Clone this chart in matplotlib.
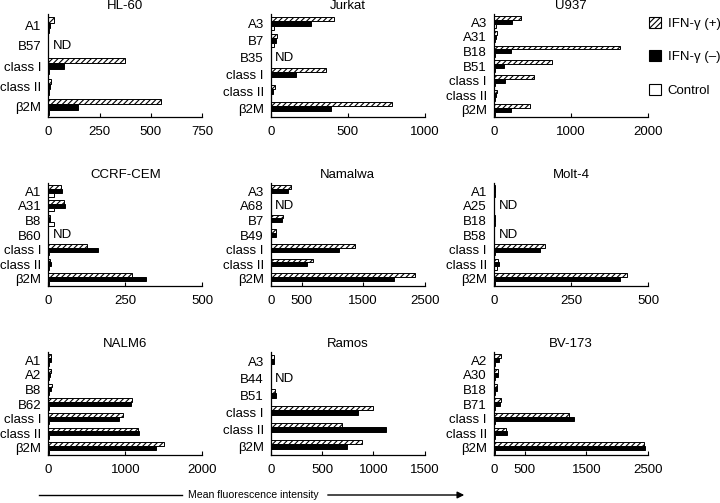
import numpy as np
import matplotlib
matplotlib.use('Agg')
import matplotlib.pyplot as plt
from matplotlib.lines import Line2D
from matplotlib.patches import FancyArrowPatch, Rectangle

plt.rcParams['font.family'] = ['Liberation Sans', 'DejaVu Sans']
plt.rcParams['font.size'] = 9
plt.rcParams['hatch.linewidth'] = 0.8

ND = np.nan

# Zelllinien und ihre Kategorien
cell_lines = ['HL-60', 'Jurkat', 'U937',
              'CCRF-CEM', 'Namalwa', 'Molt-4',
              'NALM6', 'Ramos', 'BV-173']

hl60_cats = ['A1', 'B57', 'class I', 'class II', 'β2M']
hl60_plus = [27, ND, 373, 14, 550]
hl60_minus = [11, ND, 78, 10, 144]
hl60_ctrl = [6, ND, 5, 5, 5]

jurkat_cats = ['A3', 'B7', 'B35', 'class I', 'class II', 'β2M']
jurkat_plus = [412, 38, ND, 362, 25, 790]
jurkat_minus = [261, 34, ND, 164, 18, 390]
jurkat_ctrl = [20, 22, ND, 4, 5, 4]

u937_cats = ['A3', 'A31', 'B18', 'B51', 'class I', 'class II', 'β2M']
u937_plus = [354, 38, 1633, 755, 515, 40, 473]
u937_minus = [240, 30, 220, 135, 148, 32, 220]
u937_ctrl = [25, 10, 8, 8, 8, 15, 8]

ccrf_cats = ['A1', 'A31', 'B8', 'B60', 'class I', 'class II', 'β2M']
ccrf_plus = [43, 50, 7, ND, 127, 6, 271]
ccrf_minus = [45, 53, 5, ND, 162, 10, 318]
ccrf_ctrl = [18, 20, 18, ND, 3, 3, 3]

namalwa_cats = ['A3', 'A68', 'B7', 'B49', 'class I', 'class II', 'β2M']
namalwa_plus = [329, ND, 197, 82, 1360, 690, 2346]
namalwa_minus = [280, ND, 181, 82, 1102, 592, 2000]
namalwa_ctrl = [10, ND, 10, 10, 10, 10, 10]

molt4_cats = ['A1', 'A25', 'B18', 'B58', 'class I', 'class II', 'β2M']
molt4_plus = [5, ND, 4, ND, 166, 13, 432]
molt4_minus = [5, ND, 3, ND, 150, 15, 408]
molt4_ctrl = [2, ND, 2, ND, 2, 10, 2]

nalm6_cats = ['A1', 'A2', 'B8', 'B62', 'class I', 'class II', 'β2M']
nalm6_plus = [39, 30, 44, 1090, 976, 1168, 1501]
nalm6_minus = [30, 18, 40, 1072, 915, 1177, 1400]
nalm6_ctrl = [10, 15, 10, 8, 8, 8, 8]

ramos_cats = ['A3', 'B44', 'B51', 'class I', 'class II', 'β2M']
ramos_plus = [32, ND, 45, 997, 698, 893]
ramos_minus = [32, ND, 55, 850, 1127, 743]
ramos_ctrl = [5, ND, 5, 5, 5, 5]

bv173_cats = ['A2', 'A30', 'B18', 'B71', 'class I', 'class II', 'β2M']
bv173_plus = [118, 65, 48, 107, 1220, 188, 2430]
bv173_minus = [80, 65, 48, 100, 1300, 210, 2457]
bv173_ctrl = [10, 10, 10, 10, 10, 10, 10]

x_max = [750, 1000, 2000, 500, 2500, 500, 2000, 1500, 2500]
x_ticks = [[0, 250, 500, 750], [0, 500, 1000], [0, 1000, 2000],
           [0, 250, 500], [0, 500, 1500, 2500], [0, 250, 500],
           [0, 1000, 2000], [0, 500, 1000, 1500], [0, 500, 1500, 2500]]

panels = [
    (hl60_cats, hl60_plus, hl60_minus, hl60_ctrl),
    (jurkat_cats, jurkat_plus, jurkat_minus, jurkat_ctrl),
    (u937_cats, u937_plus, u937_minus, u937_ctrl),
    (ccrf_cats, ccrf_plus, ccrf_minus, ccrf_ctrl),
    (namalwa_cats, namalwa_plus, namalwa_minus, namalwa_ctrl),
    (molt4_cats, molt4_plus, molt4_minus, molt4_ctrl),
    (nalm6_cats, nalm6_plus, nalm6_minus, nalm6_ctrl),
    (ramos_cats, ramos_plus, ramos_minus, ramos_ctrl),
    (bv173_cats, bv173_plus, bv173_minus, bv173_ctrl),
]

fig = plt.figure(figsize=(7.2, 5.03), dpi=100)

lefts = [0.067, 0.376, 0.686]
bottoms = [0.767, 0.431, 0.095]
width = 0.214
height = 0.205
bar_h = 0.26

for i, (cats, plus, minus, ctrl) in enumerate(panels):
    row, col = divmod(i, 3)
    ax = fig.add_axes([lefts[col], bottoms[row], width, height])
    y = np.arange(len(cats))
    plus = np.array(plus, dtype=float)
    minus = np.array(minus, dtype=float)
    ctrl = np.array(ctrl, dtype=float)
    ok = ~np.isnan(plus)

    ax.barh(y[ok] - bar_h, plus[ok], height=bar_h, color='white',
            edgecolor='black', linewidth=0.7, hatch='//////')
    ax.barh(y[ok], minus[ok], height=bar_h, color='black',
            edgecolor='black', linewidth=0.7)
    ax.barh(y[ok] + bar_h, ctrl[ok], height=bar_h, color='white',
            edgecolor='black', linewidth=0.7)
    for yy in y[~ok]:
        ax.text(x_max[i] * 0.03, yy, 'ND', va='center', ha='left', fontsize=9.5)

    ax.set_ylim(len(cats) - 0.5, -0.55)
    ax.set_xlim(0, x_max[i])
    ax.set_yticks(y)
    ax.set_yticklabels(cats, fontsize=9.5)
    ax.set_xticks(x_ticks[i])
    ax.set_xticklabels([str(t) for t in x_ticks[i]], fontsize=9.5)
    ax.tick_params(axis='y', length=0, pad=5)
    ax.tick_params(axis='x', direction='in', length=3, width=0.8, pad=6)
    ax.spines['top'].set_visible(False)
    ax.spines['right'].set_visible(False)
    ax.spines['left'].set_linewidth(0.9)
    ax.spines['bottom'].set_linewidth(0.9)
    ax.set_title(cell_lines[i], fontsize=9.5, pad=4)

# Legende oben rechts
handles = [
    Rectangle((0, 0), 1, 1, facecolor='white', edgecolor='black', hatch='//////', linewidth=0.8),
    Rectangle((0, 0), 1, 1, facecolor='black', edgecolor='black', linewidth=0.8),
    Rectangle((0, 0), 1, 1, facecolor='white', edgecolor='black', linewidth=0.8),
]
fig.legend(handles, ['IFN-γ (+)', 'IFN-γ (–)', 'Control'],
           loc='upper left', bbox_to_anchor=(0.885, 0.99), frameon=False,
           handlelength=0.9, handleheight=0.9, handletextpad=0.5,
           labelspacing=1.55, fontsize=9.5, borderaxespad=0.5)

# Pfeil unten
arrow_y = 1 - 495 / 503
fig.add_artist(Line2D([39 / 720, 182 / 720], [arrow_y, arrow_y], color='black', linewidth=1.0))
fig.text(253 / 720, arrow_y, 'Mean fluorescence intensity', ha='center', va='center', fontsize=7.6)
fig.add_artist(FancyArrowPatch(
    (325 / 720, arrow_y), (467 / 720, arrow_y), transform=fig.transFigure,
    arrowstyle='-|>', mutation_scale=10, color='black', linewidth=1.0))

plt.savefig('out.png', dpi=100)
